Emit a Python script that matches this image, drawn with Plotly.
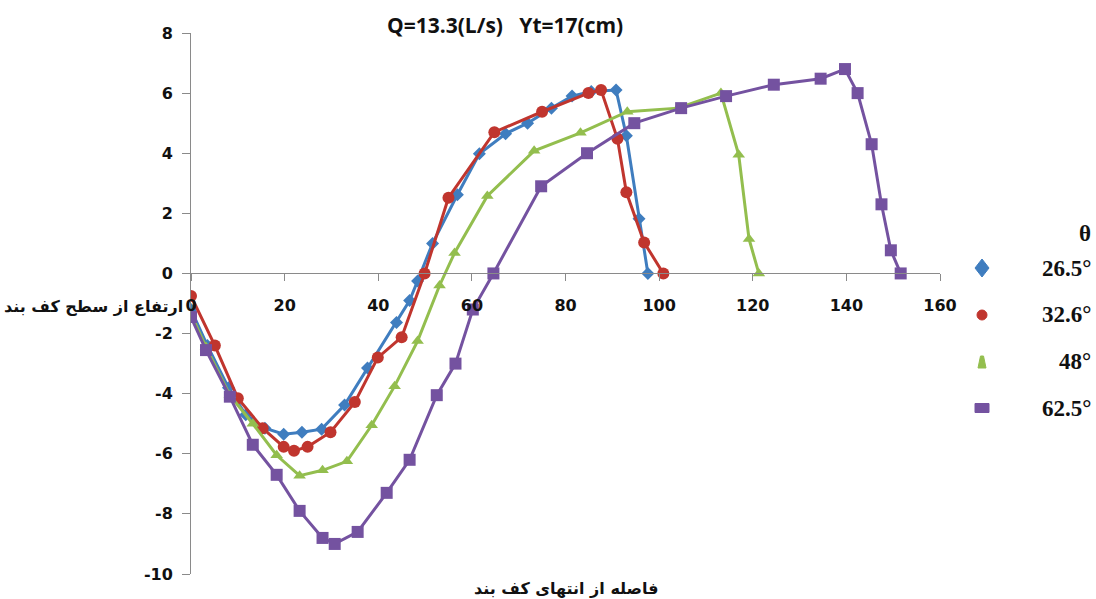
import plotly.graph_objects as go

# Profile data: distance from the end of the apron (x) vs. bed elevation (y)
x_265 = [0, 3.5, 8, 11.7, 15.8, 19.8, 23.7, 27.9, 32.8, 37.7, 43.9, 46.7, 48.4, 51.6,
         56.9, 61.6, 67.2, 71.9, 77, 81.4, 85.5, 90.8, 93, 95.7, 97.6]
y_265 = [-1.2, -2.4, -3.8, -4.7, -5.15, -5.35, -5.28, -5.18, -4.38, -3.15, -1.63, -0.9, -0.25, 1.0,
         2.62, 3.98, 4.65, 5.0, 5.5, 5.9, 6.05, 6.1, 4.58, 1.82, 0]

x_326 = [0, 5.1, 10, 15.3, 19.8, 22, 24.9, 29.8, 35, 39.9, 45, 49.9, 55, 64.8, 75, 84.9,
         87.6, 91.1, 93, 96.8, 100.9]
y_326 = [-0.75, -2.4, -4.15, -5.15, -5.77, -5.9, -5.77, -5.28, -4.28, -2.8, -2.12, 0, 2.52, 4.7, 5.38, 6.0,
         6.1, 4.48, 2.7, 1.03, 0]

x_48 = [0, 3.2, 8.3, 13.2, 18.3, 23.2, 28.1, 33.3, 38.6, 43.5, 48.4, 53.1, 56.3, 63.3, 73.3,
        83.2, 93.2, 104, 113.2, 117, 119.2, 121.3]
y_48 = [-1.35, -2.45, -4.05, -5.0, -6.05, -6.73, -6.55, -6.25, -5.05, -3.75, -2.25, -0.4, 0.68, 2.58, 4.08,
        4.68, 5.38, 5.5, 6.0, 3.95, 1.15, 0]

x_625 = [0, 3.2, 8.3, 13.2, 18.3, 23.2, 28.1, 30.7, 35.6, 41.8, 46.7, 52.5, 56.5, 60.2, 64.6,
         74.8, 84.6, 94.7, 104.7, 114.3, 124.5, 134.5, 139.7, 142.4, 145.4, 147.5, 149.5, 151.6]
y_625 = [-1.45, -2.55, -4.1, -5.7, -6.7, -7.9, -8.8, -9.0, -8.6, -7.3, -6.2, -4.05, -3.0, -1.2, 0,
         2.9, 4.0, 5.0, 5.5, 5.9, 6.28, 6.48, 6.8, 6.0, 4.3, 2.3, 0.77, 0]

series_names = ["26.5°", "32.6°", "48°", "62.5°"]
colors = ["#3F7DBF", "#C0352E", "#93BE4E", "#7452A0"]
symbols = ["diamond", "circle", "triangle-up", "square"]
sizes = [10, 12, 11, 12]

x_ticks = [0, 20, 40, 60, 80, 100, 120, 140, 160]
y_ticks = [-10, -8, -6, -4, -2, 0, 2, 4, 6, 8]

W, H = 1096, 599
L, R, T, B = 191, 156, 33, 25
pw, ph = W - L - R, H - T - B


def px_x(p):
    return (p - L) / pw


def px_y(p):
    return (H - B - p) / ph


fig = go.Figure()
for xs, ys, name, c, s, sz in zip([x_265, x_326, x_48, x_625], [y_265, y_326, y_48, y_625],
                                  series_names, colors, symbols, sizes):
    fig.add_trace(go.Scatter(
        x=xs, y=ys, name=name, mode="lines+markers",
        line=dict(color=c, width=3),
        marker=dict(symbol=s, size=sz, color=c, line=dict(width=0)),
        showlegend=False,
    ))

axis_grey = "#8A8A8A"
tick_font = dict(family="DejaVu Sans", size=16, color="#111111", weight="bold")

fig.update_layout(
    width=W, height=H,
    margin=dict(l=L, r=R, t=T, b=B, pad=0),
    paper_bgcolor="white", plot_bgcolor="white",
    xaxis=dict(
        range=[0, 160], tickvals=x_ticks, ticktext=[str(v) for v in x_ticks],
        showgrid=False, zeroline=False, showline=True, linecolor=axis_grey, linewidth=1,
        ticks="outside", ticklen=7, tickcolor=axis_grey,
        anchor="free", position=10 / 18, ticklabelstandoff=10,
        tickfont=tick_font,
    ),
    yaxis=dict(
        range=[-10, 8], tickvals=y_ticks, ticktext=[str(v) for v in y_ticks],
        showgrid=False, zeroline=False, showline=True, linecolor=axis_grey, linewidth=1,
        ticks="outside", ticklen=8, tickcolor=axis_grey, ticklabelstandoff=6,
        tickfont=tick_font,
    ),
    showlegend=False,
)

annotations = [
    dict(text="<b>Q=13.3(L/s)   Yt=17(cm)</b>", x=px_x(505), y=px_y(25),
         font=dict(family="Open Sans", size=21, color="#111111")),
    dict(text="<b>ارتفاع از سطح کف بند</b>", x=px_x(93), y=px_y(306),
         font=dict(family="DejaVu Sans", size=16, color="#111111")),
    dict(text="<b>فاصله از انتهای کف بند</b>", x=px_x(566), y=px_y(588),
         font=dict(family="DejaVu Sans", size=16, color="#111111")),
    dict(text="<b>θ</b>", x=px_x(1093), y=px_y(233), xanchor="right",
         font=dict(family="Liberation Serif", size=23, color="#111111")),
]
legend_rows = [268, 315, 362, 408]
for name, yy in zip(series_names, legend_rows):
    annotations.append(dict(text="<b>" + name + "</b>", x=px_x(1093), y=px_y(yy), xanchor="right",
                            font=dict(family="Liberation Serif", size=23, color="#111111")))
for a in annotations:
    a.update(xref="paper", yref="paper", showarrow=False)
    a.setdefault("xanchor", "center")
    a.setdefault("yanchor", "middle")
fig.update_layout(annotations=annotations)

# Legend keys drawn as pixel-sized shapes anchored in paper space (pixel y grows upward)
key_x = px_x(982)
key_shapes = [
    dict(type="path", path="M0,-9 L7,0 L0,9 L-7,0 Z"),
    dict(type="circle", x0=-5, x1=5, y0=-5, y1=5),
    dict(type="path", path="M-4,-6 L4,-6 L1.5,6 L-1.5,6 Z"),
    dict(type="rect", x0=-7, x1=7, y0=-4.5, y1=4.5),
]
shapes = []
for shp, c, yy in zip(key_shapes, colors, legend_rows):
    shp.update(xref="paper", yref="paper", xsizemode="pixel", ysizemode="pixel",
               xanchor=key_x, yanchor=px_y(yy), fillcolor=c, line=dict(color=c, width=1))
    shapes.append(shp)
fig.update_layout(shapes=shapes)

fig.write_html("out.html")
